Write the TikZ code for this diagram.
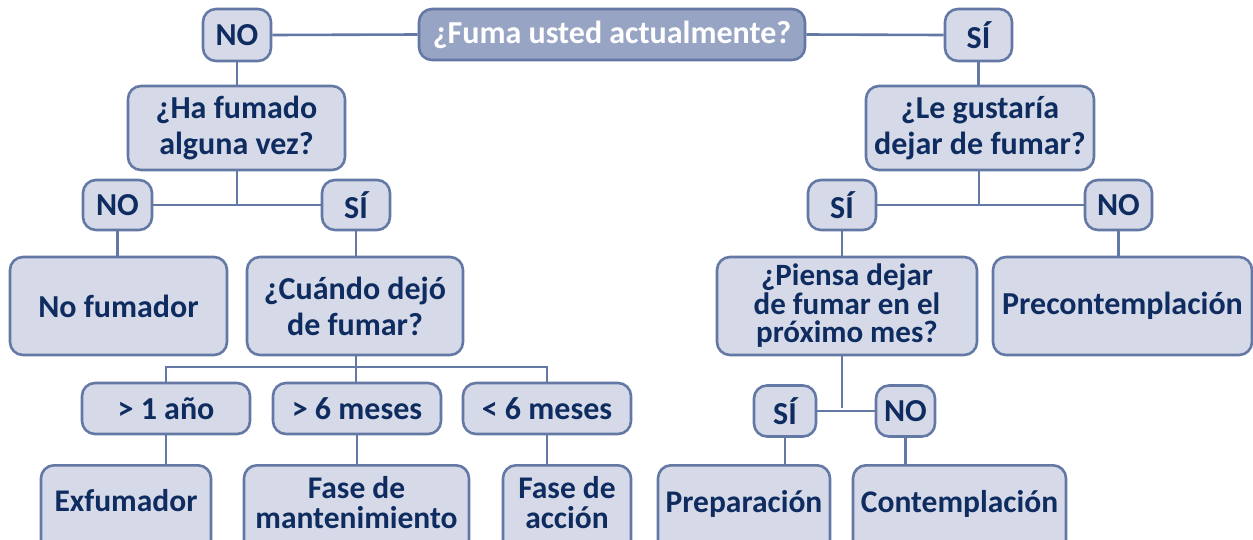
\documentclass[tikz,border=0pt]{standalone}
\usepackage{fontspec}
\setmainfont{Carlito}
\definecolor{bord}{HTML}{6378A4}
\definecolor{boxfill}{HTML}{D6DAE8}
\definecolor{topfill}{HTML}{97A4C4}
\definecolor{txt}{HTML}{0E2C5F}
\begin{document}
\begin{tikzpicture}[x=1pt,y=-1pt,
  box/.style={draw=bord, fill=boxfill, line width=2.6pt, rounded corners=13pt, text=txt,
    font=\bfseries\fontsize{32}{36}\selectfont, align=center, inner sep=0pt},
  topbox/.style={box, fill=topfill, text=white},
  small/.style={font=\bfseries\fontsize{31}{28.5}\selectfont},
  lbl/.style={text=txt, font=\bfseries\fontsize{31.5}{30}\selectfont, align=center, inner sep=0pt},
  conn/.style={draw=bord, line width=2.6pt}]
\useasboundingbox (0,0) rectangle (1253,539);
\clip (0,0) rectangle (1253,539);
\coordinate (j1) at (356,367);
\coordinate (j2) at (237,205);
\coordinate (j3) at (979,205);
\coordinate (j4) at (842,408);
% top row
\node[topbox, minimum width=386, minimum height=51] (top) at (612,34.5) {¿Fuma usted actualmente?};
\node[box, minimum width=68, minimum height=52] (no1) at (237,35) {NO};
\node[box, minimum width=67, minimum height=52] (si1) at (978.5,35) {SÍ};
% second row
\node[box, minimum width=217, minimum height=84] (ha) at (236.5,128) {¿Ha fumado\\alguna vez?};
\node[box, minimum width=228, minimum height=84] (le) at (980,128) {¿Le gustaría\\dejar de fumar?};
% yes/no row
\node[box, minimum width=69, minimum height=50] (no2) at (117.5,205) {NO};
\node[box, minimum width=68, minimum height=50] (si2) at (356,205) {SÍ};
\node[box, minimum width=68, minimum height=50] (si3) at (842,205) {SÍ};
\node[box, minimum width=67, minimum height=50] (no3) at (1118.5,205) {NO};
% third row
\node[box, minimum width=217, minimum height=98] (nof) at (118.5,306) {No fumador};
\node[box, minimum width=216, minimum height=98] (cuando) at (355,306) {¿Cuándo dejó\\de fumar?};
\node[box, small, minimum width=260, minimum height=98] (piensa) at (847,306) {¿Piensa dejar\\de fumar en el\\próximo mes?};
\node[box, minimum width=259, minimum height=98] (precon) at (1122.5,306) {Precontemplación};
% time row
\node[box, minimum width=168, minimum height=51] (a1) at (166,408.5) {> 1 año};
\node[box, minimum width=168, minimum height=51] (m6) at (357,408.5) {> 6 meses};
\node[box, minimum width=168, minimum height=51] (l6) at (547,408.5) {< 6 meses};
\node[box, minimum width=62, minimum height=51] (si4) at (785,411) {SÍ};
\node[box, minimum width=59, minimum height=51] (no4) at (905.5,411) {NO};
% bottom row (cut by the frame)
\node[box, anchor=north, minimum width=170, minimum height=110] (exf) at (126,464) {};
\node[box, anchor=north, minimum width=225, minimum height=110] (mant) at (356.5,464) {};
\node[box, anchor=north, minimum width=128, minimum height=110] (acc) at (567,464) {};
\node[box, anchor=north, minimum width=172, minimum height=110] (prep) at (744,464) {};
\node[box, anchor=north, minimum width=213, minimum height=110] (cont) at (959.5,464) {};
\node[lbl, anchor=base] (exft) at (126,511) {Exfumador};
\node[lbl] (mantt) at (356.5,503) {Fase de\\mantenimiento};
\node[lbl] (acct) at (567,503) {Fase de\\acción};
\node[lbl, anchor=base] (prept) at (744,512) {Preparación};
\node[lbl, anchor=base] (contt) at (959.5,512) {Contemplación};
% connectors
\draw[conn] (no1.east) -- (top.west);
\draw[conn] (top.east) -- (si1.west);
\draw[conn] (no1.south) -- (no1.south |- ha.north);
\draw[conn] (si1.south) -- (si1.south |- le.north);
\draw[conn] (ha.south -| j2) -- (j2);
\draw[conn] (no2.east) -- (si2.west);
\draw[conn] (le.south -| j3) -- (j3);
\draw[conn] (si3.east) -- (no3.west);
\draw[conn] (no2.south) -- (no2.south |- nof.north);
\draw[conn] (si2.south) -- (si2.south |- cuando.north);
\draw[conn] (si3.south) -- (si3.south |- piensa.north);
\draw[conn] (no3.south) -- (no3.south |- precon.north);
\draw[conn] (cuando.south -| j1) -- (j1 |- m6.north);
\draw[conn] (a1.north) |- (j1) -| (l6.north);
\draw[conn] (piensa.south -| j4) -- (j4);
\draw[conn] (si4.east) -- (no4.west);
\draw[conn] (a1.south) -- (a1.south |- exf.north);
\draw[conn] (m6.south) -- (m6.south |- mant.north);
\draw[conn] (l6.south) -- (l6.south |- acc.north);
\draw[conn] (si4.south) -- (si4.south |- prep.north);
\draw[conn] (no4.south) -- (no4.south |- cont.north);
\end{tikzpicture}
\end{document}
